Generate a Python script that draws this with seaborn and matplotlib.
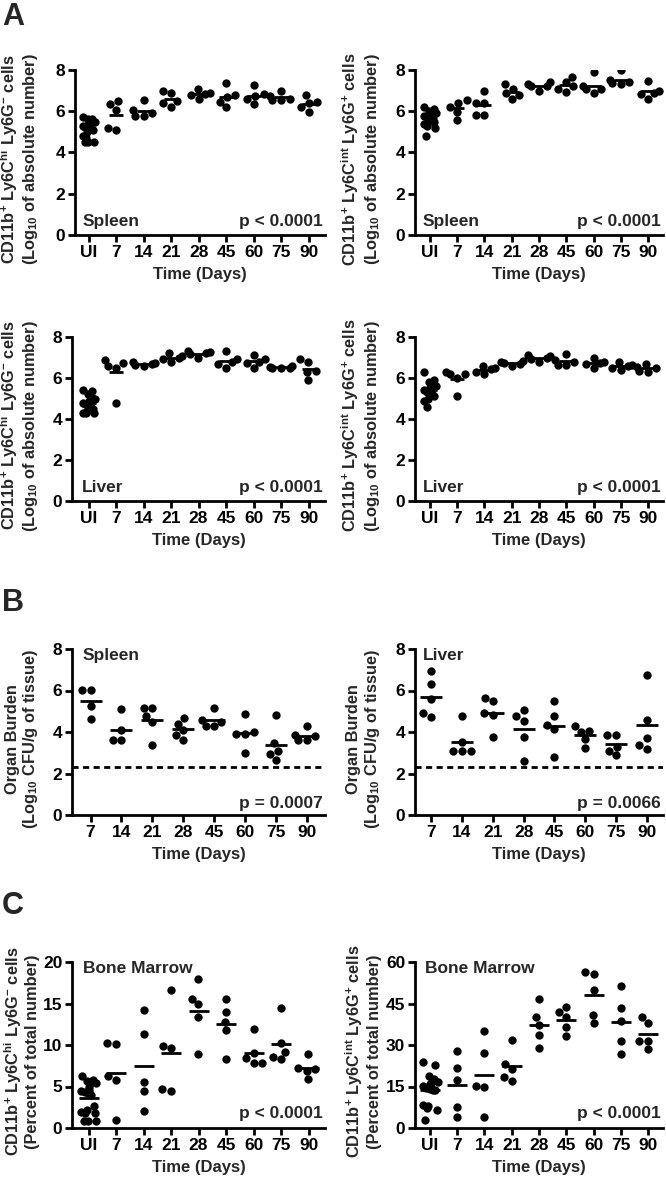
import numpy as np
import pandas as pd
import seaborn as sns
import matplotlib
matplotlib.use("Agg")
import matplotlib.pyplot as plt

# ---------------- data ----------------
days_A = ["UI", "7", "14", "21", "28", "45", "60", "75", "90"]
days_B = ["7", "14", "21", "28", "45", "60", "75", "90"]

spleen_hi = [
    [5.7, 5.6, 5.6, 5.5, 5.5, 5.4, 5.4, 5.3, 5.3, 5.2, 5.2, 5.1, 5.0, 4.8, 4.7, 4.5, 4.5, 4.5],
    [6.33, 6.5, 6.06, 5.09, 5.17],
    [6.54, 6.06, 5.9, 5.77, 5.75],
    [7.0, 6.87, 6.5, 6.22, 6.4],
    [7.06, 6.9, 6.85, 6.8, 6.59],
    [7.35, 6.8, 6.7, 6.46, 6.19],
    [7.27, 6.85, 6.75, 6.6, 6.33],
    [7.0, 6.75, 6.6, 6.55, 6.55],
    [6.79, 6.45, 6.4, 6.2, 5.98],
]
spleen_int = [
    [6.2, 6.1, 6.0, 6.0, 5.9, 5.85, 5.8, 5.75, 5.7, 5.7, 5.6, 5.5, 5.5, 5.4, 5.3, 5.2, 4.8],
    [6.38, 6.54, 5.98, 5.57, 6.2],
    [7.0, 6.38, 6.38, 5.82, 5.82],
    [7.3, 7.1, 6.9, 6.8, 6.6],
    [7.4, 7.3, 7.2, 7.2, 7.0],
    [7.65, 7.4, 7.2, 7.1, 6.95],
    [7.9, 7.2, 7.1, 7.1, 6.9],
    [8.0, 7.5, 7.4, 7.35, 7.3],
    [7.45, 7.0, 6.9, 6.85, 6.6],
]
liver_hi = [
    [5.4, 5.35, 5.2, 5.1, 5.0, 4.9, 4.85, 4.8, 4.75, 4.7, 4.6, 4.5, 4.4, 4.3, 4.3, 4.3],
    [6.87, 6.75, 6.5, 6.6, 4.79],
    [6.8, 6.75, 6.7, 6.65, 6.6],
    [7.2, 7.05, 7.0, 6.95, 6.8],
    [7.3, 7.25, 7.2, 7.15, 7.0],
    [7.3, 6.95, 6.8, 6.7, 6.5],
    [7.1, 6.95, 6.8, 6.75, 6.5],
    [6.6, 6.55, 6.5, 6.5, 6.5],
    [6.95, 6.8, 6.35, 6.3, 5.9],
]
liver_int = [
    [6.3, 5.9, 5.8, 5.7, 5.6, 5.5, 5.5, 5.4, 5.3, 5.3, 5.2, 5.1, 5.0, 4.9, 4.6],
    [6.3, 6.2, 6.2, 6.0, 5.1],
    [6.6, 6.5, 6.45, 6.3, 6.2],
    [6.85, 6.8, 6.75, 6.7, 6.6],
    [7.1, 7.05, 7.0, 6.95, 6.8],
    [7.15, 6.9, 6.8, 6.65, 6.65],
    [7.0, 6.8, 6.75, 6.7, 6.5],
    [6.8, 6.65, 6.6, 6.5, 6.4],
    [6.7, 6.55, 6.5, 6.35, 6.3],
]
cfu_spleen = [
    [6.04, 6.04, 5.23, 4.62],
    [5.12, 4.1, 3.62, 3.62],
    [5.17, 5.17, 4.75, 4.5, 3.38],
    [4.67, 4.4, 4.1, 3.86, 3.62],
    [5.15, 4.6, 4.5, 4.27, 4.27],
    [4.86, 4.0, 3.9, 3.9, 3.0],
    [4.8, 3.45, 3.1, 2.95, 2.65],
    [4.3, 3.85, 3.8, 3.6, 3.6],
]
cfu_liver = [
    [6.92, 6.31, 5.6, 4.72, 4.91],
    [4.78, 3.54, 3.09, 3.09, 3.09],
    [5.62, 5.48, 4.91, 4.8, 3.74],
    [5.04, 4.75, 4.54, 3.78, 2.58],
    [5.49, 4.75, 4.35, 4.15, 2.79],
    [4.3, 4.07, 4.0, 3.66, 3.22],
    [3.86, 3.86, 3.3, 3.1, 2.87],
    [6.76, 4.56, 3.7, 3.38, 3.2],
]
bm_hi = [
    [6.3, 5.8, 5.7, 5.5, 5.4, 5.0, 4.6, 4.5, 4.3, 4.2, 4.0, 2.6, 2.2, 1.9, 1.8, 1.8, 0.9, 0.9, 0.9],
    [10.08, 10.28, 6.28, 5.8, 0.92],
    [14.2, 11.32, 5.6, 4.4, 2.08],
    [16.6, 9.92, 9.68, 4.48, 4.68],
    [18.0, 15.6, 14.88, 13.32, 8.92],
    [15.6, 14.0, 12.8, 11.8, 8.28],
    [11.88, 9.0, 8.4, 7.88, 7.88],
    [14.48, 10.2, 9.2, 8.28, 8.6],
    [8.92, 7.2, 7.1, 6.9, 5.92],
]
bm_int = [
    [24.0, 22.8, 18.8, 17.6, 16.6, 16.2, 15.8, 15.2, 14.6, 14.2, 13.8, 13.6, 8.0, 8.2, 7.2, 6.6, 3.0],
    [28.0, 21.6, 17.4, 7.56, 3.84],
    [35.2, 27.2, 15.2, 14.8, 3.84],
    [31.8, 23.2, 21.2, 18.6, 17.0],
    [46.8, 40.0, 37.2, 33.5, 29.0],
    [43.8, 42.0, 40.2, 36.6, 33.4],
    [56.4, 55.8, 50.0, 41.0, 38.0],
    [51.2, 43.2, 38.8, 31.6, 26.6],
    [40.0, 37.8, 31.6, 31.6, 28.4],
]

ylab_hi = r"CD11b$^{+}$ Ly6C$^{hi}$ Ly6G$^{-}$ cells"
ylab_int = r"CD11b$^{+}$ Ly6C$^{int}$ Ly6G$^{+}$ cells"
ylab_log = r"(Log$_{10}$ of absolute number)"
ylab_cfu = "Organ Burden\n" + r"(Log$_{10}$ CFU/g of tissue)"
ylab_pct = "(Percent of total number)"

# ---------------- style ----------------
sns.set_theme(style="ticks")
plt.rcParams["font.family"] = ["Liberation Sans", "DejaVu Sans"]
plt.rcParams["font.weight"] = "bold"
plt.rcParams["axes.labelweight"] = "bold"
plt.rcParams["mathtext.fontset"] = "custom"
plt.rcParams["mathtext.rm"] = "Liberation Sans:bold"
plt.rcParams["mathtext.bf"] = "Liberation Sans:bold"
plt.rcParams["mathtext.it"] = "Liberation Sans:bold"
plt.rcParams["mathtext.sf"] = "Liberation Sans:bold"
plt.rcParams["mathtext.default"] = "rm"

W, H = 666, 1179
fig = plt.figure(figsize=(W / 100, H / 100), dpi=100)


def frame(x0, x1, ytop, ybot):
    return fig.add_axes([x0 / W, 1 - ybot / H, (x1 - x0) / W, (ybot - ytop) / H])


def long_df(groups, days):
    rows = []
    for d, vals in zip(days, groups):
        for v in vals:
            rows.append((d, v))
    return pd.DataFrame(rows, columns=["day", "value"])


def panel(ax, groups, days, ylim, yticks, xlim, ylabel, tissue, tissue_pos,
          ptext, p_y, meanw, dashed=None, ylab_x=-0.15, dense_jitter=0.24):
    df = long_df(groups, days)
    dense = df["day"] == "UI"
    if dense.any():
        np.random.seed(7)
        sns.stripplot(data=df[dense], x="day", y="value", order=days,
                      color="black", size=6, jitter=dense_jitter, ax=ax)
    sns.swarmplot(data=df[~dense], x="day", y="value", order=days,
                  color="black", size=6, ax=ax, warn_thresh=1)
    sns.pointplot(data=df, x="day", y="value", order=days, estimator="mean",
                  errorbar=None, color="black", markers="_", linestyles="none",
                  markersize=meanw, markeredgewidth=2.0, ax=ax)
    if dashed is not None:
        ax.axhline(dashed, color="black", lw=2, ls=(0, (2.2, 1.6)))
    ax.set_ylim(*ylim)
    ax.set_yticks(yticks)
    ax.set_xlim(*xlim)
    ax.set_xlabel("Time (Days)", fontsize=12, fontweight="bold", labelpad=5)
    ax.set_ylabel(ylabel, fontsize=11.8, fontweight="bold", linespacing=1.1)
    ax.yaxis.set_label_coords(ylab_x, 0.46)
    for s in ["top", "right"]:
        ax.spines[s].set_visible(False)
    for s in ["left", "bottom"]:
        ax.spines[s].set_linewidth(2)
        ax.spines[s].set_color("black")
    ax.tick_params(axis="both", length=5, width=2, labelsize=12.5, pad=2,
                   colors="black", direction="out")
    for t in ax.get_xticklabels() + ax.get_yticklabels():
        t.set_fontweight("bold")
    ax.text(tissue_pos[0], tissue_pos[1], tissue, transform=ax.transAxes,
            fontsize=12.5, fontweight="bold", ha="left", va="center")
    ax.text(0.99, p_y, ptext, transform=ax.transAxes, fontsize=12.5,
            fontweight="bold", ha="right", va="center")


# Panel A
ax = frame(75, 325, 70, 235)
panel(ax, spleen_hi, days_A, (0, 8), [0, 2, 4, 6, 8], (-0.5, 8.6),
      ylab_hi + "\n" + ylab_log, "Spleen", (0.03, 0.08), "p < 0.0001", 0.08, 10,
      ylab_x=-0.14)
ax = frame(415, 663, 70, 235)
panel(ax, spleen_int, days_A, (0, 8), [0, 2, 4, 6, 8], (-0.55, 8.55),
      ylab_int + "\n" + ylab_log, "Spleen", (0.03, 0.08), "p < 0.0001", 0.08, 10,
      ylab_x=-0.135)
ax = frame(72, 325, 337, 501)
panel(ax, liver_hi, days_A, (0, 8), [0, 2, 4, 6, 8], (-0.6, 8.6),
      ylab_hi + "\n" + ylab_log, "Liver", (0.04, 0.08), "p < 0.0001", 0.08, 10,
      ylab_x=-0.126)
ax = frame(415, 663, 337, 501)
panel(ax, liver_int, days_A, (0, 8), [0, 2, 4, 6, 8], (-0.55, 8.55),
      ylab_int + "\n" + ylab_log, "Liver", (0.03, 0.08), "p < 0.0001", 0.08, 10,
      ylab_x=-0.135)

# Panel B
ax = frame(72, 325, 649, 815)
panel(ax, cfu_spleen, days_B, (0, 8), [0, 2, 4, 6, 8], (-0.6, 7.58),
      ylab_cfu, "Spleen", (0.04, 0.96), "p = 0.0007", 0.07, 16, dashed=2.3,
      ylab_x=-0.126)
ax = frame(415, 663, 649, 815)
panel(ax, cfu_liver, days_B, (0, 8), [0, 2, 4, 6, 8], (-0.52, 7.52),
      ylab_cfu, "Liver", (0.03, 0.96), "p = 0.0066", 0.07, 16, dashed=2.3,
      ylab_x=-0.135)

# Panel C
ax = frame(72, 325, 962, 1128)
panel(ax, bm_hi, days_A, (0, 20), [0, 5, 10, 15, 20], (-0.6, 8.6),
      ylab_hi + "\n" + ylab_pct, "Bone Marrow", (0.045, 0.96), "p < 0.0001", 0.09, 14,
      ylab_x=-0.126, dense_jitter=0.3)
ax = frame(415, 663, 962, 1128)
panel(ax, bm_int, days_A, (0, 60), [0, 15, 30, 45, 60], (-0.55, 8.55),
      ylab_int + "\n" + ylab_pct, "Bone Marrow", (0.04, 0.96), "p < 0.0001", 0.09, 14,
      ylab_x=-0.135, dense_jitter=0.3)

for letter, yc in [("A", 17), ("B", 603), ("C", 906)]:
    fig.text(2 / W, 1 - yc / H, letter, fontsize=22, fontweight="bold",
             ha="left", va="center")

fig.savefig("out.png", dpi=100)
